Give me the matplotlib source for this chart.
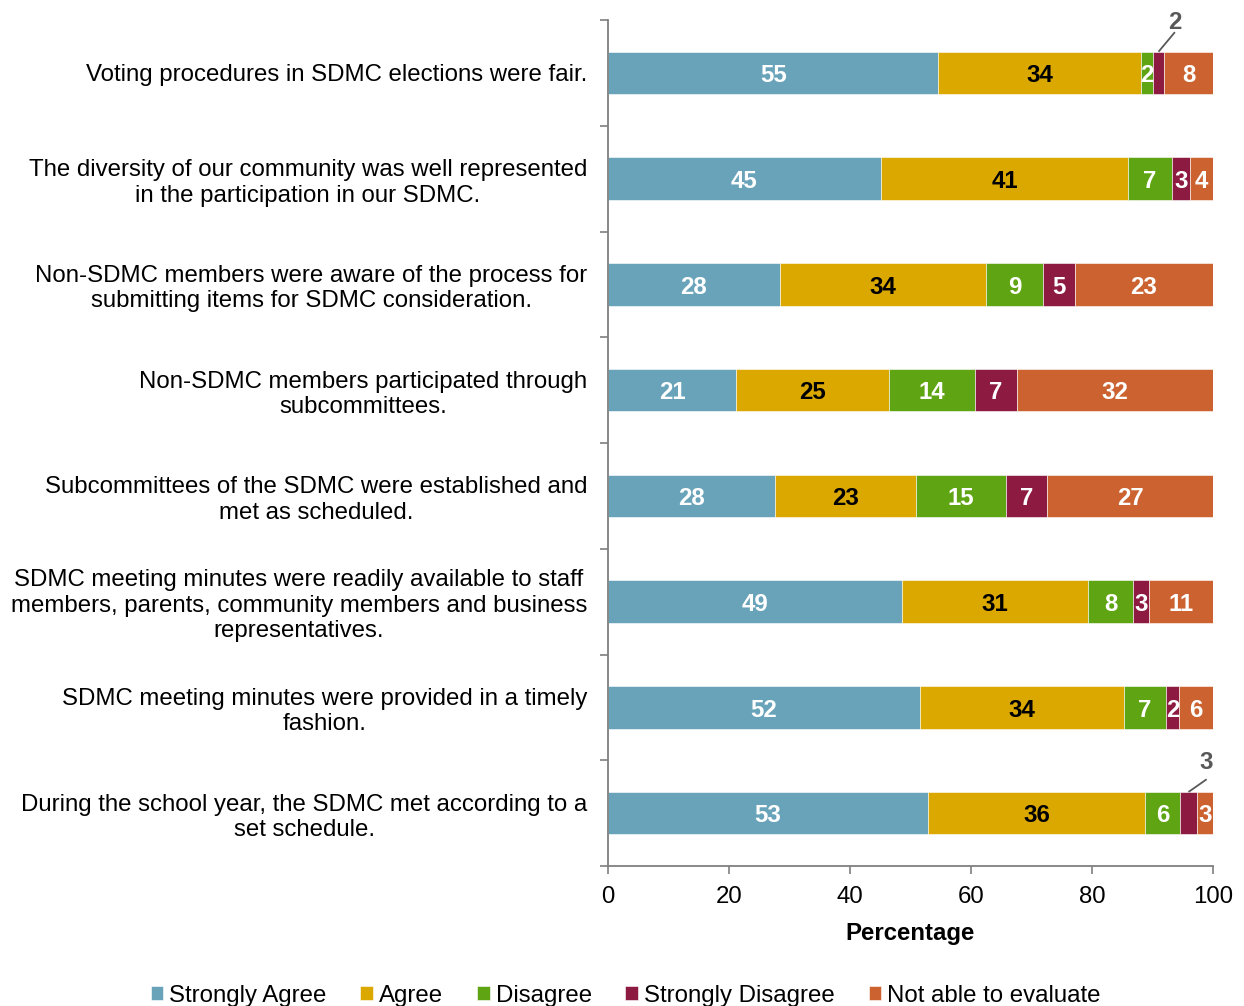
import matplotlib
matplotlib.use("Agg")
import matplotlib.pyplot as plt
import numpy as np

plt.rcParams['font.family'] = ['Liberation Sans', 'DejaVu Sans']

statements = [
    "Voting procedures in SDMC elections were fair.",
    "The diversity of our community was well represented\nin the participation in our SDMC.",
    "Non-SDMC members were aware of the process for\nsubmitting items for SDMC consideration.",
    "Non-SDMC members participated through\nsubcommittees.",
    "Subcommittees of the SDMC were established and\nmet as scheduled.",
    "SDMC meeting minutes were readily available to staff\nmembers, parents, community members and business\nrepresentatives.",
    "SDMC meeting minutes were provided in a timely\nfashion.",
    "During the school year, the SDMC met according to a\nset schedule.",
]
series_names = ["Strongly Agree", "Agree", "Disagree", "Strongly Disagree", "Not able to evaluate"]
strongly_agree = [54.6, 45.1, 28.4, 21.2, 27.6, 48.6, 51.6, 52.9]
agree = [33.5, 40.9, 34.1, 25.3, 23.3, 30.7, 33.7, 35.9]
disagree = [2.0, 7.2, 9.4, 14.2, 14.9, 7.5, 6.9, 5.7]
strongly_disagree = [1.8, 3.0, 5.3, 6.9, 6.8, 2.6, 2.2, 2.9]
not_able = [8.1, 3.8, 22.8, 32.4, 27.4, 10.6, 5.6, 2.6]
x_ticks = [0, 20, 40, 60, 80, 100]

colors = ["#68A3BA", "#DBA800", "#5FA412", "#8C1A41", "#CB6230"]
label_colors = ["white", "black", "white", "white", "white"]

# thin "Strongly Disagree" segments labelled with a leader line:
# row -> (text x offset, text bottom offset, leader top offset)
callouts = {0: (2.7, -0.37, -0.385), 7: (3.0, -0.37, -0.32)}

fig = plt.figure(figsize=(12.44, 10.06), dpi=100)
ax = fig.add_axes([608 / 1244, 1 - 866 / 1006, 605 / 1244, 846 / 1006])

data = [strongly_agree, agree, disagree, strongly_disagree, not_able]
n = len(statements)
y = np.arange(n)
left = np.zeros(n)
fs = 17.3
for k, (vals, name) in enumerate(zip(data, series_names)):
    vals = np.array(vals)
    ax.barh(y, vals, left=left, height=0.4, color=colors[k], label=name,
            edgecolor="white", linewidth=0.4)
    for i, v in enumerate(vals):
        cx = left[i] + v / 2
        if k == 3 and i in callouts:
            dx, ty, ly = callouts[i]
            ax.plot([cx, cx + dx], [i - 0.2, i + ly], color="#595959", lw=1.3,
                    solid_capstyle="butt")
            ax.text(cx + dx, i + ty, f"{v:.0f}", ha="center", va="bottom",
                    fontsize=fs, fontweight="bold", color="#595959")
            continue
        ax.text(cx, i + 0.025, f"{v:.0f}", ha="center", va="center", fontsize=fs,
                fontweight="bold", color=label_colors[k])
    left += vals

ax.set_xlim(0, 100)
ax.set_ylim(n - 0.5, -0.5)
ax.set_xticks(x_ticks)
ax.set_xticklabels([str(t) for t in x_ticks], fontsize=fs)
ax.set_yticks(y)
ax.set_yticklabels(statements, fontsize=fs, multialignment="center")
ax.tick_params(axis="y", length=0, pad=15)
ax.set_yticks(np.arange(-0.5, n, 1.0), minor=True)
ax.tick_params(axis="y", which="minor", length=6, color="#7f7f7f", width=1.2)
ax.tick_params(axis="x", length=6, color="#7f7f7f", width=1.2, pad=8.5)
for s in ("top", "right"):
    ax.spines[s].set_visible(False)
for s in ("left", "bottom"):
    ax.spines[s].set_color("#7f7f7f")
    ax.spines[s].set_linewidth(1.3)
ax.set_xlabel("Percentage", fontsize=fs, fontweight="bold", labelpad=10)

fig.legend(loc="lower center", bbox_to_anchor=(0.503, -0.022), ncol=5,
           frameon=False, fontsize=fs, handlelength=0.53, handleheight=0.53,
           handletextpad=0.25, columnspacing=1.4)

fig.savefig("out.png", dpi=100)
